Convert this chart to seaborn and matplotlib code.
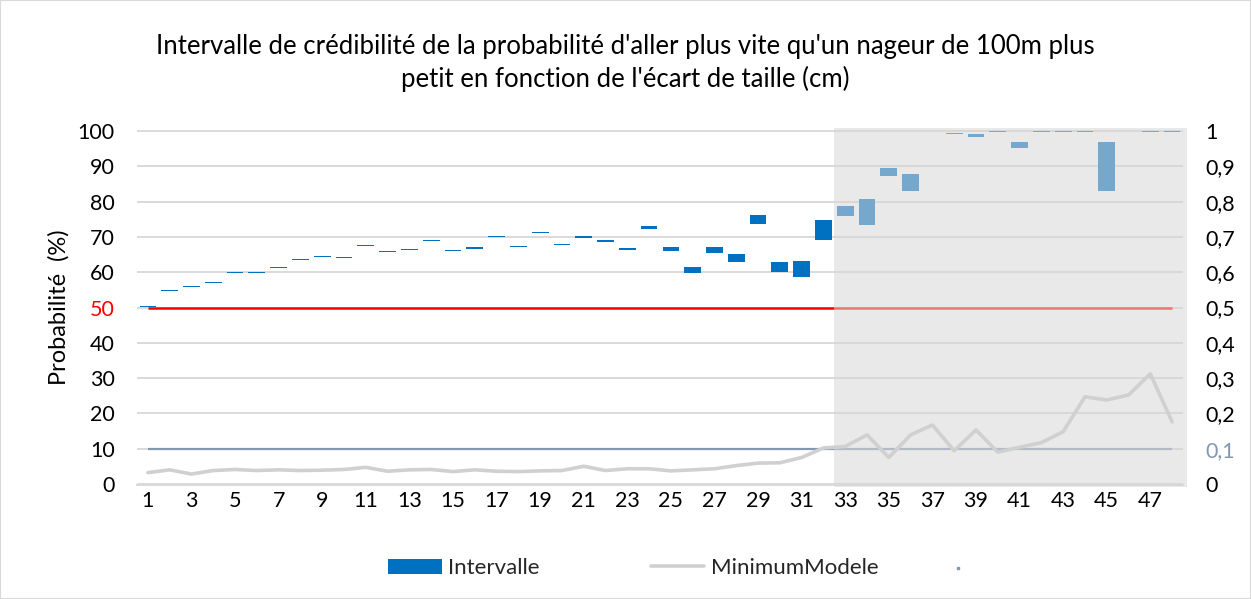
import numpy as np
import matplotlib
matplotlib.use("Agg")
import matplotlib.pyplot as plt
from matplotlib.patches import Patch, Rectangle
from matplotlib.lines import Line2D
import seaborn as sns
import pandas as pd

# Data
ecart_taille = [str(i) for i in range(1, 49)]

borne_basse = [50.2, 54.8, 55.8, 57.0, 59.9, 59.9, 61.3, 63.5, 64.4, 64.1,
               67.5, 65.8, 66.4, 68.9, 66.1, 66.7, 69.9, 67.2, 71.1, 67.6,
               69.8, 68.6, 66.4, 72.3, 66.1, 59.8, 65.4, 63.0, 73.7, 60.1,
               58.6, 69.2, 75.9, 73.5, 87.3, 83.1, 100.0, 99.2, 98.4, 99.7,
               95.2, 99.7, 99.7, 99.7, 83.1, 100.0, 99.7, 99.7]

borne_haute = [50.5, 55.1, 56.1, 57.3, 60.2, 60.2, 61.6, 63.8, 64.7, 64.4,
               67.8, 66.1, 66.7, 69.2, 66.4, 67.1, 70.3, 67.5, 71.5, 67.9,
               70.4, 69.1, 66.9, 73.1, 67.1, 61.4, 67.1, 65.2, 76.2, 62.8,
               63.2, 74.8, 78.9, 80.7, 89.4, 87.9, 100.0, 99.5, 99.2, 100.0,
               96.9, 100.0, 100.0, 100.0, 97.0, 100.0, 100.0, 100.0]

minimum_modele = [0.032, 0.040, 0.028, 0.038, 0.041, 0.038, 0.040, 0.038, 0.039, 0.041,
                  0.047, 0.036, 0.040, 0.041, 0.035, 0.040, 0.036, 0.035, 0.037, 0.038,
                  0.050, 0.038, 0.043, 0.043, 0.037, 0.040, 0.043, 0.052, 0.059, 0.060,
                  0.075, 0.102, 0.106, 0.139, 0.075, 0.139, 0.167, 0.094, 0.153, 0.090,
                  0.104, 0.117, 0.148, 0.247, 0.238, 0.252, 0.312, 0.176]

seuil_50 = 50
seuil_10 = 10
debut_zone = 33  # first category of the shaded zone

df = pd.DataFrame({
    "ecart": ecart_taille,
    "bas": borne_basse,
    "haut": borne_haute,
})
df["hauteur"] = df["haut"] - df["bas"]
pos = np.arange(len(ecart_taille))

sns.set_theme(style="white")
plt.rcParams["font.family"] = ["Lato", "DejaVu Sans"]

BLEU = "#0070C0"
ROUGE = "#FF0000"
GRIS_BLEU = "#8497B0"
GRIS_MIN = "#D0D0D0"
GRILLE = "#D9D9D9"

fig = plt.figure(figsize=(12.51, 5.99), dpi=100)
ax = fig.add_axes([137 / 1251, 1 - 485 / 599, (1183 - 137) / 1251, (485 - 130) / 599])

# Floating bars for the credibility interval
sns.barplot(data=df, x="ecart", y="hauteur", order=ecart_taille, bottom=df["bas"].values,
            color=BLEU, saturation=1, width=0.77, errorbar=None, linewidth=0,
            edgecolor="none", ax=ax, zorder=2)

ax.plot(pos, [seuil_50] * len(pos), color=ROUGE, lw=1.8, zorder=3, solid_capstyle="butt")
ax.plot(pos, [seuil_10] * len(pos), color=GRIS_BLEU, lw=1.6, zorder=3, solid_capstyle="butt")

ax.set_ylim(-0.3, 100.3)
ax.set_xlim(-0.5, len(pos) - 0.5)
ax.set_yticks(range(0, 101, 10))
ax.yaxis.grid(True, color=GRILLE, lw=1.4, zorder=0)
ax.set_axisbelow(True)
ax.set_xticks(pos[::2])
ax.set_xticklabels(ecart_taille[::2])
ax.tick_params(axis="x", length=0, pad=4, labelsize=15.5, colors="black")
ax.tick_params(axis="y", length=0, pad=16, labelsize=15.5, colors="black")
for lbl in ax.get_yticklabels():
    if lbl.get_text() == "50":
        lbl.set_color(ROUGE)
for s in ["top", "right", "left"]:
    ax.spines[s].set_visible(False)
ax.spines["bottom"].set_color(GRILLE)
ax.spines["bottom"].set_linewidth(1.4)
ax.set_xlabel("")
ax.set_ylabel("Probabilité  (%)", fontsize=17, color="black", labelpad=6)

# shaded zone on top of primary series
zone = Rectangle((debut_zone - 1.5, -0.9), len(pos) - debut_zone + 1.2, 101.8,
                 facecolor="#D7D7D7", alpha=0.55, edgecolor="none",
                 zorder=5, clip_on=False)
ax.add_patch(zone)

# secondary axis
ax2 = ax.twinx()
sns.lineplot(x=pos, y=minimum_modele, ax=ax2, color=GRIS_MIN, lw=2.6, zorder=4)
ax2.set_ylim(-0.003, 1.003)
ax2.set_yticks(np.arange(0, 1.01, 0.1))
ax2.set_yticklabels([("%.1f" % v).replace(".", ",").replace("0,0", "0").replace("1,0", "1")
                     for v in np.arange(0, 1.01, 0.1)])
ax2.tick_params(axis="y", length=0, pad=16, labelsize=15.5, colors="black")
for lbl in ax2.get_yticklabels():
    if lbl.get_text() == "0,1":
        lbl.set_color(GRIS_BLEU)
for s in ax2.spines.values():
    s.set_visible(False)
ax2.grid(False)

fig.suptitle("Intervalle de crédibilité de la probabilité d'aller plus vite qu'un nageur de 100m plus\n"
             "petit en fonction de l'écart de taille (cm)",
             x=0.5, y=1 - 34 / 599, va="top", fontsize=18.5, color="black", linespacing=1.32)

handles = [Patch(facecolor=BLEU, edgecolor="none"),
           Line2D([], [], color=GRIS_MIN, lw=2.6)]
fig.legend(handles, ["Intervalle", "MinimumModele"], loc="center",
           bbox_to_anchor=(0.5064, 1 - 568 / 599), ncol=2, frameon=False,
           fontsize=16, handlelength=2.4, handleheight=0.65, handletextpad=0.3,
           columnspacing=5.0)
# third (unlabelled) legend key, a tiny dot
fig.add_artist(Line2D([958 / 1251], [1 - 568 / 599], color=GRIS_BLEU, marker="s",
                      markersize=1.5, lw=0, transform=fig.transFigure))

fig.patches.append(Rectangle((0, 0), 1, 1, transform=fig.transFigure, fill=False,
                             edgecolor=GRILLE, lw=1.5))

fig.savefig("out.png", dpi=100)
